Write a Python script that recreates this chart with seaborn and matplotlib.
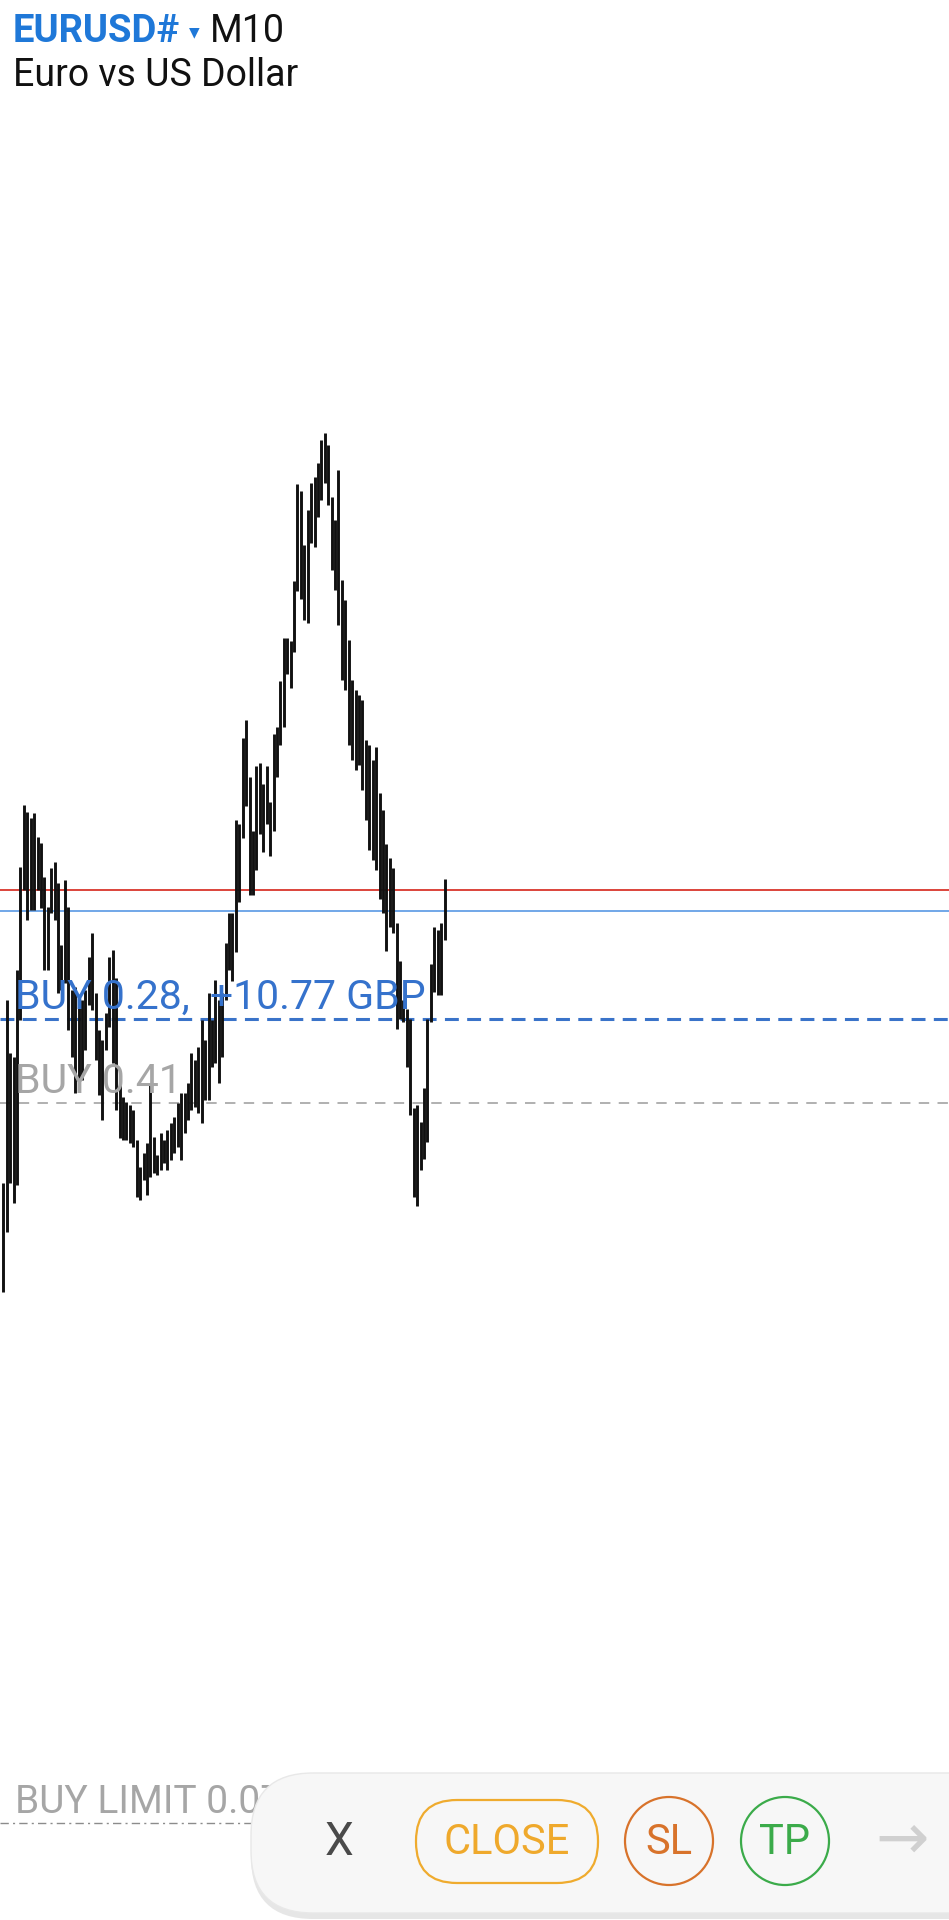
import pandas as pd
import seaborn as sns
import matplotlib.pyplot as plt
from matplotlib.patches import FancyBboxPatch, Circle

# EURUSD M10 bars (high / low), left to right
highs = [1.07817, 1.08000, 1.07947, 1.07943, 1.08030, 1.08133, 1.08195, 1.08188, 1.08182, 1.08187,
         1.08163, 1.08157, 1.08123, 1.08093, 1.08132, 1.08138, 1.08117, 1.08055, 1.08120, 1.08093,
         1.08010, 1.08013, 1.08003, 1.08000, 1.08010, 1.08043, 1.08067, 1.08007, 1.07970, 1.07960,
         1.07987, 1.08043, 1.08050, 1.08022, 1.07915, 1.07903, 1.07898, 1.07895, 1.07890, 1.07860,
         1.07833, 1.07847, 1.07857, 1.07917, 1.07863, 1.07845, 1.07867, 1.07860, 1.07870, 1.07877,
         1.07883, 1.07897, 1.07907, 1.07907, 1.07917, 1.07947, 1.07940, 1.07953, 1.07980, 1.07960,
         1.08007, 1.07980, 1.08020, 1.08000, 1.08007, 1.08057, 1.08087, 1.08087, 1.08180, 1.08176,
         1.08262, 1.08280, 1.08223, 1.08169, 1.08234, 1.08237, 1.08216, 1.08234, 1.08198, 1.08266,
         1.08273, 1.08319, 1.08362, 1.08362, 1.08359, 1.08419, 1.08516, 1.08509, 1.08455,
         1.08490, 1.08517, 1.08523, 1.08537, 1.08560, 1.08567, 1.08555, 1.08503, 1.08480,
         1.08530, 1.08420, 1.08400, 1.08360, 1.08320, 1.08310, 1.08305, 1.08300, 1.08260, 1.08255,
         1.08240, 1.08253, 1.08207, 1.08190, 1.08156, 1.08142, 1.08132, 1.08077, 1.08039, 1.08000,
         1.07991, 1.07981, 1.07892, 1.07895, 1.07878, 1.07912, 1.07981, 1.08036, 1.08073, 1.08070,
         1.08077, 1.08121]
lows = [1.07708, 1.07768, 1.07817, 1.07797, 1.07815, 1.07980, 1.08110, 1.08080, 1.08090, 1.08090,
        1.08110, 1.08092, 1.08030, 1.08030, 1.08087, 1.08080, 1.08007, 1.08010, 1.08017, 1.07970,
        1.07943, 1.07907, 1.07910, 1.07920, 1.07950, 1.07995, 1.07990, 1.07940, 1.07905, 1.07880,
        1.07950, 1.07973, 1.07937, 1.07890, 1.07862, 1.07860, 1.07860, 1.07857, 1.07853, 1.07803,
        1.07800, 1.07820, 1.07805, 1.07823, 1.07827, 1.07825, 1.07830, 1.07837, 1.07830, 1.07840,
        1.07847, 1.07853, 1.07840, 1.07867, 1.07880, 1.07890, 1.07893, 1.07887, 1.07877, 1.07900,
        1.07900, 1.07933, 1.07937, 1.07917, 1.07943, 1.08000, 1.08030, 1.08019, 1.08048, 1.08098,
        1.08162, 1.08194, 1.08105, 1.08105, 1.08130, 1.08166, 1.08148, 1.08176, 1.08144, 1.08169,
        1.08223, 1.08255, 1.08273, 1.08326, 1.08312, 1.08348, 1.08409, 1.08401, 1.08380,
        1.08377, 1.08457, 1.08453, 1.08483, 1.08500, 1.08517, 1.08495, 1.08430, 1.08410,
        1.08375, 1.08320, 1.08310, 1.08255, 1.08240, 1.08230, 1.08235, 1.08210, 1.08180, 1.08150,
        1.08140, 1.08130, 1.08101, 1.08087, 1.08049, 1.08073, 1.08067, 1.07971, 1.07981, 1.07978,
        1.07933, 1.07885, 1.07803, 1.07794, 1.07830, 1.07841, 1.07858, 1.07978, 1.08008, 1.08005,
        1.08005, 1.08060]

ask_price = 1.08110
bid_price = 1.08089
position_price = 1.07981
position2_price = 1.07897
buy_limit_price = 1.07177

position_label = "BUY 0.28,  +10.77 GBP"
position2_label = "BUY 0.41"
buy_limit_label = "BUY LIMIT 0.07"

# long form: each bar is one unit with two points (high, low)
bars = pd.DataFrame({
    "bar": list(range(len(highs))) * 2,
    "price": highs + lows,
})

sns.set_theme(style="white")
plt.rcParams['font.family'] = ['Roboto', 'DejaVu Sans']
plt.rcParams['lines.scale_dashes'] = False

W, H = 949, 1920
fig = plt.figure(figsize=(W / 100, H / 100), dpi=100)
fig.patch.set_facecolor("white")

ax = fig.add_axes([0, 0, 1, 1])
ax.set_facecolor("white")
sns.lineplot(data=bars, x="bar", y="price", units="bar", estimator=None, sort=False,
             color="#111111", lw=2.1, solid_capstyle="butt", legend=False, ax=ax, zorder=3)

# price lines
ax.axhline(ask_price, color="#d9362c", lw=1.3, zorder=2)
ax.axhline(bid_price, color="#4a90e2", lw=1.1, zorder=2)
ax.axhline(position_price, color="#3a73c9", lw=2.2, dashes=(10, 6), zorder=2)
ax.axhline(position2_price, color="#a3a3a3", lw=1.2, dashes=(7.5, 6), zorder=2)
ax.axhline(buy_limit_price, color="#8c8c8c", lw=1.0, dashes=(6, 3, 1.5, 3), zorder=2)

ax.annotate(position_label, xy=(0, position_price), xycoords=("axes fraction", "data"),
            xytext=(15, 10), textcoords="offset pixels", color="#3572cc",
            fontsize=29.5, va="baseline", zorder=5)
ax.annotate(position2_label, xy=(0, position2_price), xycoords=("axes fraction", "data"),
            xytext=(15, 10), textcoords="offset pixels", color="#a6a6a6",
            fontsize=29.5, va="baseline", zorder=5)
ax.annotate(buy_limit_label, xy=(0, buy_limit_price), xycoords=("axes fraction", "data"),
            xytext=(15, 10), textcoords="offset pixels", color="#a6a6a6",
            fontsize=28, va="baseline", zorder=5)

ax.set_xlim(-0.965, 276.5)
ax.set_ylim(1.07080, 1.09000)
ax.set_axis_off()

# header
fig.text(13 / W, 1 - 42 / H, "EURUSD#", color="#1f78d8", fontsize=27.5, fontweight="bold", va="baseline")
fig.text(189 / W, 1 - 36 / H, "▼", color="#1f78d8", fontsize=10, va="baseline",
         family=["DejaVu Sans"])
fig.text(210 / W, 1 - 42 / H, "M10", color="#111111", fontsize=27, va="baseline")
fig.text(13 / W, 1 - 86 / H, "Euro vs US Dollar", color="#111111", fontsize=27, va="baseline")

# bottom action panel (pixel coordinates)
ui = fig.add_axes([0, 0, 1, 1])
ui.set_xlim(0, W)
ui.set_ylim(H, 0)
ui.set_axis_off()
ui.patch.set_alpha(0)

ui.add_patch(FancyBboxPatch((251, 1779), 760, 140, boxstyle="round,pad=0,rounding_size=62",
                            facecolor="#d6d6d6", edgecolor="none", alpha=0.6))
ui.add_patch(FancyBboxPatch((251, 1773), 760, 140, boxstyle="round,pad=0,rounding_size=62",
                            facecolor="#f7f7f7", edgecolor="#e8e8e8", lw=1))

ui.text(339, 1842, "X", color="#4a4a4a", fontsize=33, ha="center", va="center")

ui.add_patch(FancyBboxPatch((416, 1800), 182, 83, boxstyle="round,pad=0,rounding_size=41",
                            facecolor="none", edgecolor="#efab2e", lw=1.6))
ui.text(507, 1843, "CLOSE", color="#efa92c", fontsize=30, ha="center", va="center")

ui.add_patch(Circle((669, 1841), 44, facecolor="none", edgecolor="#d8732b", lw=1.6))
ui.text(669, 1843, "SL", color="#d8732b", fontsize=30, ha="center", va="center")

ui.add_patch(Circle((785, 1841), 44, facecolor="none", edgecolor="#3bab4a", lw=1.6))
ui.text(785, 1843, "TP", color="#3bab4a", fontsize=30, ha="center", va="center")

ui.text(902, 1841, "→", color="#d0d0d0", fontsize=46, ha="center", va="center")

plt.savefig("out.png", dpi=100, facecolor="white")
